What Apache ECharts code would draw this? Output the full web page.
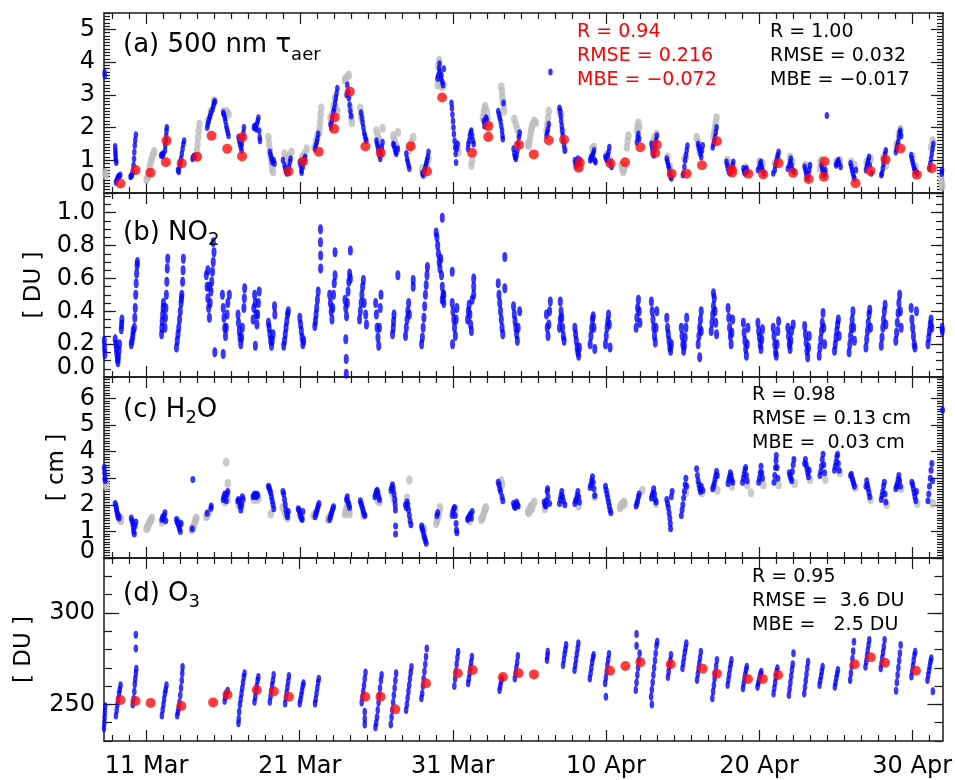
<!DOCTYPE html>
<html><head><meta charset="utf-8">
<script src="https://cdn.jsdelivr.net/npm/echarts@6/dist/echarts.min.js"></script>
<style>html,body{margin:0;padding:0;background:#fff}#c{width:955px;height:780px}</style>
</head><body><div id="c"></div>
<script>
const FONT = 'DejaVu Sans';
const X_MIN = 8.22, X_MAX = 62.98;
// x values are day numbers counted from 1 Mar (= 1); 1 Apr = 32
const xTickValues = [11,21,31,41,51,61];
const xTickLabels = ['11 Mar','21 Mar','31 Mar','10 Apr','20 Apr','30 Apr'];
const aTickValues = [0,1,2,3,4,5];       const aTickLabels = ['0','1','2','3','4','5'];
const bTickValues = [0,0.2,0.4,0.6,0.8,1.0]; const bTickLabels = ['0.0','0.2','0.4','0.6','0.8','1.0'];
const cTickValues = [0,1,2,3,4,5,6];     const cTickLabels = ['0','1','2','3','4','5','6'];
const dTickValues = [250,300];           const dTickLabels = ['250','300'];

// ---- (a) 500 nm aerosol optical depth ----
const aBlue = [[8.26,3.68],[8.27,3.58],
[8.95,1.42],[8.96,1.3],[8.97,1.2],[8.98,1.1],[9.0,1.0],[9.02,0.93],
[9.0,0.33],[9.05,0.38],[9.1,0.45],[9.15,0.5],[9.2,0.52],[9.28,0.55],
[9.95,0.5],[10.0,0.53],[10.05,0.55],[10.1,0.65],[10.15,0.85],[10.18,1.05],[10.2,1.25],[10.23,1.45],[10.26,1.62],[10.3,1.78],
[11.95,1.15],[12.0,1.18],[12.05,1.12],[12.1,1.2],[12.2,1.3],[12.22,1.45],[12.25,1.6],[12.28,1.75],[12.3,1.9],[12.32,2.0],
[13.05,0.7],[13.1,0.65],[13.15,0.8],[13.2,0.95],[13.25,1.05],[13.3,1.2],[13.35,1.35],[13.4,1.5],[13.45,1.6],
[14.0,1.05],[14.05,1.1],[14.1,1.13],[14.15,1.1],
[14.95,2.0],[15.0,2.1],[15.05,2.2],[15.1,2.3],[15.15,2.35],[15.2,2.45],[15.3,2.55],[15.35,2.65],[15.4,2.75],[15.45,2.8],
[16.0,2.45],[16.05,2.4],[16.1,2.3],[16.15,2.2],[16.2,2.05],[16.25,1.95],[16.3,1.85],[16.35,1.75],
[17.0,1.7],[17.05,1.6],[17.1,1.5],[17.15,1.4],[17.2,1.3],[17.22,1.5],[17.28,1.7],[17.32,1.85],[17.35,2.0],
[18.0,2.0],[18.05,2.05],[18.1,2.0],[18.15,1.95],[18.2,2.1],[18.25,2.2],[18.3,2.3],[18.35,1.9],[18.38,1.7],[18.4,1.6],
[19.05,1.25],[19.1,1.15],[19.15,1.05],[19.2,0.95],[19.3,1.0],[19.35,0.9],
[19.9,1.0],[20.0,0.85],[20.05,0.75],[20.1,0.68],[20.15,0.6],[20.25,0.62],[20.3,0.8],[20.35,0.95],[20.4,1.05],
[21.0,0.95],[21.05,0.85],[21.1,0.7],[21.12,0.63],[21.2,0.8],[21.25,0.95],[21.3,1.05],[21.35,1.1],
[22.0,1.35],[22.05,1.45],[22.1,1.55],[22.15,1.65],[22.2,1.8],
[23.0,2.1],[23.05,2.0],[23.1,2.2],[23.15,2.35],[23.2,2.5],[23.25,2.6],[23.3,2.75],[23.35,2.9],[23.4,3.05],[23.45,3.2],
[24.05,3.0],[24.1,3.3],[24.15,3.1],[24.2,2.9],[24.25,2.7],[24.3,2.5],[24.35,2.35],
[25.0,2.45],[25.05,2.3],[25.1,2.15],[25.15,2.0],[25.2,1.85],[25.25,1.75],[25.3,1.65],[25.35,1.6],
[26.0,1.6],[26.05,1.5],[26.1,1.4],[26.15,1.3],[26.2,1.15],[26.25,1.05],[26.3,1.2],[26.35,1.4],[26.4,1.55],
[27.1,1.5],[27.15,1.45],[27.2,1.35],[27.25,1.25],[27.3,1.2],[27.4,1.35],
[27.95,1.2],[28.0,1.05],[28.05,0.95],[28.1,0.85],[28.15,0.75],
[29.0,0.6],[29.05,0.55],[29.1,0.65],[29.15,0.7],[29.2,0.8],[29.25,0.9],[29.3,1.0],[29.35,1.1],[29.4,1.25],
[29.98,3.5],[30.03,3.6],[30.08,3.8],[30.12,3.95],[30.15,3.7],[30.2,3.5],[30.25,3.6],[30.3,3.4],[30.35,3.3],[30.4,3.8],
[30.9,2.75],[30.93,2.6],[30.96,2.4],[31.0,2.2],[31.03,2.0],[31.06,1.8],[31.1,1.6],[31.13,1.4],[31.17,1.2],[31.2,0.93],[31.25,1.35],[31.3,1.5],
[31.98,1.35],[32.0,1.5],[32.05,1.6],[32.1,1.75],[32.15,1.85],[32.2,1.9],[32.25,1.75],[32.3,1.6],[32.35,1.5],
[33.0,2.2],[33.05,2.05],[33.1,2.15],[33.15,2.3],[33.2,2.25],
[33.95,2.5],[34.0,2.4],[34.05,2.3],[34.1,2.2],[34.15,2.05],[34.2,1.9],[34.23,1.75],[34.25,1.65],[34.3,2.75],
[34.95,1.35],[35.0,1.2],[35.05,1.1],[35.1,1.05],[35.15,1.15],[35.2,1.3],[35.25,1.5],[35.3,1.7],[35.35,1.84],
[37.36,3.7],
[37.1,1.75],[37.15,1.85],[37.2,1.95],[37.25,2.1],
[37.95,2.6],[38.0,2.5],[38.03,2.35],[38.06,2.2],[38.1,2.05],[38.13,1.9],[38.16,1.75],[38.2,1.6],[38.25,1.45],[38.3,1.3],
[38.95,1.0],[39.0,0.9],[39.05,0.85],[39.1,0.95],[39.15,1.05],[39.2,0.9],[39.3,1.0],
[39.95,1.0],[40.0,1.1],[40.05,1.05],[40.1,1.15],[40.15,1.2],[40.2,1.3],[40.25,1.0],[40.3,0.95],
[40.95,1.1],[41.0,1.05],[41.05,1.0],[41.1,1.15],[41.15,1.25],[41.2,1.4],[41.25,0.95],[41.35,0.8],
[43.0,1.55],[43.05,1.7],[43.1,1.8],[43.15,1.65],
[43.95,1.5],[44.0,1.35],[44.05,1.2],[44.1,1.15],[44.15,1.3],[44.2,1.45],[44.25,1.6],[44.3,1.75],
[44.95,1.05],[45.0,0.95],[45.05,0.85],[45.1,0.75],[45.15,0.6],[45.2,0.5],[45.25,0.45],
[46.0,0.55],[46.05,0.6],[46.1,0.8],[46.15,1.0],[46.2,1.15],[46.25,1.3],[46.3,1.44],
[47.0,1.5],[47.05,1.4],[47.1,1.3],[47.15,1.2],[47.2,1.1],[47.25,1.3],[47.3,1.45],
[47.95,1.4],[48.0,1.5],[48.05,1.6],[48.1,1.7],[48.15,1.85],[48.2,2.0],
[48.85,0.95],[48.9,0.85],[48.95,0.75],[49.0,0.65],[49.1,0.6],[49.15,0.7],[49.25,0.85],[49.3,0.95],
[49.95,0.75],[50.0,0.65],[50.05,0.6],[50.1,0.7],[50.15,0.75],[50.2,0.65],
[50.9,0.7],[51.0,0.8],[51.05,0.9],[51.1,0.95],[51.15,0.8],[51.2,0.7],[51.3,0.6],
[51.9,0.6],[52.0,0.7],[52.05,0.85],[52.1,0.95],[52.15,1.05],[52.2,1.15],[52.25,1.25],
[52.85,0.75],[52.95,0.85],[53.0,0.95],[53.05,1.05],[53.1,0.85],[53.15,0.7],[53.25,0.65],
[53.95,0.8],[54.0,0.7],[54.05,0.6],[54.1,0.5],[54.15,0.45],[54.2,0.55],[54.25,0.7],[54.3,0.85],
[55.05,0.85],[55.1,0.75],[55.15,0.65],[55.2,0.55],[55.25,0.6],[55.3,0.7],[55.4,2.37],
[56.0,0.85],[56.05,0.9],[56.1,0.95],[56.15,1.0],[56.2,0.9],[56.3,0.8],
[56.95,0.9],[57.0,0.8],[57.05,0.7],[57.1,0.6],[57.15,0.5],[57.2,0.45],[57.3,0.7],
[57.95,0.7],[58.0,0.8],[58.05,0.9],[58.1,1.0],[58.15,1.1],[58.2,0.85],[58.3,0.6],
[58.95,0.55],[59.0,0.6],[59.05,0.75],[59.1,0.9],[59.15,1.05],[59.2,1.2],[59.25,1.3],
[59.9,1.25],[59.95,1.35],[60.0,1.45],[60.05,1.55],[60.1,1.7],[60.15,1.85],[60.2,1.9],[60.25,1.75],
[60.9,1.15],[60.95,1.05],[61.0,0.95],[61.05,0.85],[61.1,0.75],[61.15,0.7],[61.2,0.65],[61.3,0.6],
[62.1,0.75],[62.15,0.9],[62.2,1.05],[62.25,1.2],[62.3,1.35],[62.35,1.5],
[62.9,0.6],[62.92,0.7]];
const aGray = [[8.3,0.62],[8.33,0.55],
[11.0,0.42],[11.08,0.5],[11.15,0.65],[11.2,0.8],[11.28,0.95],[11.35,1.08],[11.42,1.18],[11.5,1.27],
[14.25,1.1],[14.3,1.3],[14.33,1.5],[14.36,1.7],[14.4,1.9],[14.45,2.1],
[15.0,2.2],[15.2,2.5],[15.4,2.82],[15.45,2.78],
[16.05,2.5],[16.15,2.45],[16.25,2.48],[16.35,2.4],
[18.95,1.7],[19.0,1.5],[19.05,1.3],[19.1,1.1],[19.15,0.9],[19.2,0.75],[19.25,0.65],
[20.0,1.2],[20.1,1.05],[20.2,0.8],[20.3,1.1],[20.45,1.25],
[21.15,1.1],[21.3,1.2],[21.45,1.35],
[21.95,1.4],[22.05,1.6],[22.15,1.75],[22.25,1.85],[22.3,2.0],[22.33,2.2],[22.36,2.4],[22.4,2.6],
[23.0,2.3],[23.1,2.4],[23.2,2.65],[23.3,2.9],[23.35,2.6],[23.45,2.5],
[23.95,3.45],[24.0,3.5],[24.1,3.55],[24.2,3.6],[24.25,3.0],[24.3,2.6],[24.35,2.3],[24.4,2.15],
[24.95,2.6],[25.0,2.4],[25.05,2.25],
[26.0,1.9],[26.1,1.75],[26.2,1.6],[26.3,1.4],[26.35,1.2],[26.4,1.98],
[27.1,1.75],[27.2,1.6],[27.3,1.45],[27.35,1.3],[27.4,1.85],
[28.1,1.3],[28.2,1.4],[28.3,1.55],[28.4,1.7],
[29.0,0.75],[29.1,0.55],[29.3,0.85],[29.4,1.05],
[30.0,3.3],[30.05,3.9],[30.1,4.05],[30.2,3.3],[30.3,3.25],[30.4,3.3],
[31.3,1.45],[31.35,1.25],
[32.2,0.85],[32.25,1.0],
[32.95,2.3],[33.0,2.45],[33.05,2.55],[33.1,2.65],[33.2,2.5],[33.25,2.3],[33.3,2.1],[33.35,1.95],
[34.15,3.25],[34.2,3.1],[34.22,2.95],[34.25,2.8],[34.3,2.65],[34.33,2.5],
[35.0,2.25],[35.1,2.1],[35.2,1.95],[35.3,1.8],
[35.9,1.5],[35.95,1.45],[36.0,1.6],[36.05,1.75],[36.1,1.9],[36.15,2.0],[36.2,2.1],[36.3,2.2],[36.4,2.15],
[37.1,1.9],[37.15,2.1],[37.2,2.3],[37.25,2.5],
[37.95,2.5],[38.05,2.4],[38.15,1.9],[38.3,1.35],
[39.0,0.85],[39.2,0.8],
[40.1,1.35],[40.2,1.4],
[41.0,1.15],[41.25,1.0],
[42.0,0.85],[42.05,0.75],[42.1,0.65],[42.15,0.7],[42.2,0.8],
[42.35,1.4],[42.4,1.6],[42.45,1.75],[43.0,1.9],[43.05,2.05],[43.1,2.15],[43.15,2.0],
[44.05,1.55],[44.15,1.7],[44.3,1.8],
[45.0,1.1],[45.15,0.8],[45.25,0.55],
[46.1,1.05],[46.2,1.1],
[46.9,1.7],[47.0,1.55],[47.05,1.4],[47.1,1.25],
[48.0,1.7],[48.05,1.85],[48.1,2.0],[48.15,2.15],[48.2,2.3],
[48.9,1.0],[49.1,0.9],
[50.1,0.78],
[51.0,0.95],[51.2,0.9],
[52.0,0.9],[52.2,1.1],
[53.0,1.1],[53.15,0.95],
[54.0,0.85],[54.2,0.75],
[54.95,0.75],[55.0,0.95],[55.05,1.0],[55.15,0.85],[55.3,0.6],
[56.0,0.95],[56.25,1.0],
[57.0,0.95],[57.2,0.85],
[58.0,0.95],[58.25,1.05],
[59.1,1.1],[59.25,0.85],
[59.95,1.5],[60.1,1.8],[60.2,1.95],
[61.0,1.1],[61.2,0.8],
[62.2,1.4],[62.3,1.6],
[62.85,0.45],[62.9,0.3],[62.93,0.2]];
const aRed = [[9.3,0.29],[10.28,0.7],[11.26,0.62],[12.3,1.6],[12.26,0.94],[13.29,0.91],[14.3,1.11],[15.24,1.75],[16.26,1.35],[17.25,1.7],[17.23,1.12],[20.26,0.66],[21.22,0.96],[22.24,1.26],[23.28,2.31],[23.24,1.96],[24.26,3.1],[25.28,1.42],[26.28,1.23],[28.24,1.43],[29.3,0.66],[30.29,2.92],[32.24,1.23],[33.3,2.05],[33.3,1.71],[35.3,1.47],[36.27,1.18],[37.25,1.61],[38.25,1.63],[39.27,0.93],[39.2,0.77],[41.28,0.9],[42.23,0.94],[43.23,1.4],[44.3,1.47],[44.2,1.22],[45.27,0.59],[46.25,0.59],[47.25,0.85],[48.23,1.58],[49.2,0.72],[49.22,0.63],[50.27,0.59],[51.25,0.57],[52.25,0.91],[53.2,0.62],[54.21,0.43],[55.25,0.96],[55.2,0.5],[57.27,0.3],[58.25,0.67],[59.23,1.02],[60.21,1.36],[61.27,0.56],[62.25,0.76]];

// ---- (b) NO2 ----
const bBlue = [[8.24,0.22],[8.26,0.18],[8.28,0.14],
[8.95,0.23],[9.0,0.2],[9.03,0.17],[9.06,0.14],[9.1,0.11],[9.13,0.09],[9.16,0.12],[9.2,0.16],[9.23,0.2],[9.35,0.29],[9.37,0.32],[9.39,0.35],
[10.0,0.2],[10.05,0.22],[10.1,0.25],[10.12,0.28],[10.2,0.3],[10.23,0.36],[10.26,0.42],[10.29,0.5],[10.32,0.57],[10.35,0.63],[10.38,0.68],[10.4,0.7],
[11.98,0.26],[12.0,0.3],[12.02,0.34],[12.05,0.38],[12.08,0.42],[12.1,0.45],[12.2,0.3],[12.23,0.36],[12.26,0.42],[12.29,0.5],[12.32,0.58],[12.35,0.66],[12.38,0.72],
[12.95,0.18],[13.0,0.22],[13.05,0.26],[13.1,0.3],[13.15,0.35],[13.2,0.4],[13.25,0.45],[13.28,0.48],[13.3,0.5],[13.35,0.58],[13.38,0.65],[13.4,0.72],
[14.9,0.62],[14.95,0.55],[15.0,0.48],[15.05,0.42],[15.1,0.36],[15.15,0.45],[15.2,0.52],[15.25,0.58],[15.3,0.64],[15.35,0.7],[15.4,0.76],[15.45,0.15],[15.35,0.82],[15.0,0.65],[15.1,0.55],
[15.95,0.5],[16.0,0.42],[16.05,0.36],[16.1,0.3],[16.15,0.25],[16.2,0.3],[16.25,0.38],[16.3,0.45],[16.0,0.14],[16.4,0.5],
[16.97,0.38],[17.0,0.33],[17.05,0.28],[17.1,0.24],[17.15,0.2],[17.2,0.24],[17.25,0.3],[17.35,0.42],[17.38,0.48],[17.4,0.54],
[17.95,0.35],[18.0,0.42],[18.05,0.5],[18.1,0.45],[18.15,0.38],[18.2,0.32],[18.25,0.38],[18.3,0.45],[18.35,0.52],[18.1,0.19],
[18.95,0.33],[19.0,0.3],[19.05,0.26],[19.1,0.22],[19.15,0.19],[19.2,0.22],[19.25,0.26],[19.35,0.43],[19.37,0.38],
[19.95,0.19],[20.0,0.22],[20.05,0.26],[20.1,0.3],[20.15,0.34],[20.2,0.38],[20.25,0.4],
[21.0,0.36],[21.05,0.32],[21.1,0.28],[21.15,0.24],[21.2,0.2],[21.25,0.22],
[21.98,0.31],[22.02,0.34],[22.06,0.38],[22.1,0.42],[22.15,0.47],[22.2,0.52],[22.35,0.9],[22.35,0.82],[22.36,0.74],[22.36,0.66],
[22.95,0.5],[23.0,0.45],[23.05,0.4],[23.1,0.35],[23.15,0.42],[23.2,0.5],[23.25,0.57],[23.3,0.62],[23.3,0.76],
[23.95,0.47],[24.0,0.42],[24.05,0.37],[24.1,0.45],[24.15,0.52],[24.2,0.58],[24.25,0.63],[24.3,0.77],[24.3,0.6],[24.0,0.23],[24.03,0.11],[24.03,0.02],
[24.9,0.35],[24.95,0.4],[25.0,0.45],[25.05,0.5],[25.1,0.55],[25.15,0.59],[25.2,0.45],[25.3,0.38],[25.35,0.32],
[25.95,0.45],[26.0,0.38],[26.05,0.3],[26.1,0.24],[26.15,0.19],[26.2,0.3],[26.25,0.42],[26.3,0.5],
[27.05,0.26],[27.1,0.3],[27.12,0.34],[27.15,0.38],[27.4,0.62],
[27.9,0.25],[27.95,0.3],[28.0,0.35],[28.05,0.4],[28.1,0.45],[28.15,0.38],[28.4,0.55],[28.4,0.59],
[28.95,0.2],[29.0,0.24],[29.05,0.3],[29.1,0.36],[29.15,0.43],[29.2,0.5],[29.25,0.56],[29.3,0.62],[29.33,0.67],
[29.9,0.88],[29.95,0.85],[30.0,0.8],[30.05,0.75],[30.1,0.7],[30.15,0.66],[30.2,0.72],[30.25,0.62],[30.3,0.55],[30.35,0.5],[30.3,0.97],[30.3,0.47],[30.4,0.45],[30.4,0.5],
[30.95,0.45],[31.0,0.4],[31.05,0.35],[31.1,0.3],[31.15,0.25],[31.2,0.35],[31.25,0.42],[30.95,0.64],[30.97,0.2],
[31.95,0.35],[32.0,0.4],[32.05,0.44],[32.1,0.38],[32.15,0.32],[32.2,0.28],[32.25,0.47],[32.35,0.6],[32.35,0.55],[32.35,0.5],
[33.95,0.57],[34.0,0.5],[34.05,0.45],[34.1,0.4],[34.15,0.35],[34.2,0.3],[34.25,0.26],[34.38,0.73],[34.38,0.54],
[34.95,0.43],[35.0,0.38],[35.05,0.34],[35.1,0.3],[35.15,0.26],[35.2,0.22],[35.25,0.3],[35.35,0.4],
[37.1,0.38],[37.15,0.3],[37.2,0.25],[37.25,0.32],[37.3,0.4],[37.35,0.46],
[37.95,0.3],[38.0,0.35],[38.05,0.4],[38.1,0.36],[38.15,0.3],[38.2,0.25],[38.25,0.22],[38.0,0.46],
[38.95,0.3],[39.0,0.26],[39.05,0.22],[39.1,0.18],[39.15,0.15],[39.2,0.13],[39.25,0.18],
[39.95,0.2],[40.0,0.25],[40.05,0.3],[40.1,0.35],[40.15,0.37],[40.2,0.3],[40.25,0.17],
[40.95,0.2],[41.0,0.25],[41.05,0.3],[41.1,0.34],[41.15,0.38],[41.2,0.32],[41.25,0.18],
[42.95,0.3],[43.0,0.36],[43.05,0.42],[43.1,0.47],[43.15,0.4],[43.2,0.33],
[43.95,0.46],[44.0,0.4],[44.05,0.35],[44.1,0.3],[44.15,0.25],[44.2,0.21],[44.25,0.3],[44.3,0.4],
[44.95,0.36],[45.0,0.3],[45.05,0.26],[45.1,0.22],[45.15,0.18],[45.2,0.16],[45.25,0.2],
[45.9,0.3],[45.95,0.25],[46.0,0.2],[46.05,0.16],[46.1,0.19],[46.15,0.24],[46.2,0.3],[46.25,0.36],
[47.0,0.2],[47.05,0.25],[47.1,0.3],[47.15,0.35],[47.2,0.4],[47.1,0.12],[47.2,0.28],
[47.85,0.28],[47.9,0.33],[47.95,0.38],[48.0,0.43],[48.05,0.48],[48.1,0.4],[48.15,0.33],[48.2,0.26],[48.0,0.51],
[48.95,0.42],[49.0,0.36],[49.05,0.3],[49.1,0.25],[49.15,0.2],[49.2,0.27],[49.25,0.35],
[49.95,0.33],[50.0,0.27],[50.05,0.22],[50.1,0.17],[50.15,0.13],[50.2,0.2],[50.25,0.3],
[50.9,0.33],[50.95,0.28],[51.0,0.24],[51.05,0.2],[51.1,0.17],[51.15,0.23],[51.2,0.29],
[51.9,0.3],[51.95,0.25],[52.0,0.2],[52.05,0.15],[52.1,0.13],[52.15,0.2],[52.2,0.28],[52.25,0.34],
[52.85,0.3],[52.9,0.25],[52.95,0.2],[53.0,0.17],[53.05,0.22],[53.1,0.28],[53.2,0.32],
[53.95,0.31],[54.0,0.26],[54.05,0.21],[54.1,0.16],[54.15,0.12],[54.2,0.18],[54.25,0.25],
[54.9,0.13],[54.95,0.18],[55.0,0.23],[55.05,0.28],[55.1,0.33],[55.15,0.39],[55.2,0.3],[55.25,0.2],
[55.9,0.16],[55.95,0.2],[56.0,0.24],[56.05,0.28],[56.1,0.32],[56.15,0.35],[56.2,0.25],
[56.85,0.15],[56.9,0.2],[56.95,0.25],[57.0,0.3],[57.05,0.35],[57.1,0.4],[57.15,0.3],[57.2,0.22],
[57.95,0.18],[58.0,0.23],[58.05,0.28],[58.1,0.33],[58.15,0.38],[58.2,0.41],[58.25,0.3],
[58.95,0.19],[59.0,0.24],[59.05,0.3],[59.1,0.35],[59.15,0.4],[59.2,0.44],[59.25,0.32],
[59.9,0.22],[59.95,0.27],[60.0,0.33],[60.05,0.39],[60.1,0.45],[60.15,0.5],[60.2,0.4],[60.25,0.3],
[60.9,0.42],[60.95,0.35],[61.0,0.3],[61.05,0.25],[61.1,0.2],[61.15,0.18],[61.25,0.4],
[62.0,0.2],[62.05,0.24],[62.1,0.28],[62.15,0.32],[62.2,0.35],[62.25,0.3],
[62.92,0.3],[62.93,0.28]];

// ---- (c) H2O ----
const cBlue = [[8.24,3.4],[8.26,3.2],[8.28,3.0],[8.3,2.9],
[8.95,2.05],[9.0,1.95],[9.03,1.85],[9.06,1.75],[9.1,1.65],[9.13,1.55],[9.16,1.6],[9.2,1.5],
[10.0,1.5],[10.05,1.4],[10.1,1.3],[10.13,1.15],[10.16,1.0],[10.2,0.9],[10.25,1.2],[10.3,1.35],
[12.0,1.45],[12.05,1.55],[12.1,1.5],[12.15,1.6],[12.2,1.7],[12.25,1.4],
[12.95,1.45],[13.0,1.35],[13.05,1.3],[13.1,1.2],[13.15,1.1],[13.2,1.0],[13.25,1.3],
[13.98,1.1],[14.02,2.95],
[14.95,1.68],[15.2,1.87],[15.22,1.95],
[16.0,2.2],[16.05,2.3],[16.1,2.4],[16.15,2.25],[16.2,2.15],[16.25,2.4],[16.3,2.5],
[16.95,2.15],[17.0,2.2],[17.05,2.1],[17.1,1.95],[17.15,1.8],[17.2,2.0],[17.25,2.3],[17.3,2.2],
[17.95,2.3],[18.0,2.35],[18.05,2.4],[18.1,2.35],[18.15,2.3],[18.2,2.4],[18.25,2.35],
[18.95,2.7],[19.0,2.65],[19.05,2.55],[19.1,2.45],[19.15,2.3],[19.2,2.15],[19.25,2.0],[19.3,1.85],
[19.9,2.5],[19.95,2.4],[20.0,2.2],[20.05,2.0],[20.1,1.8],[20.15,1.65],[20.2,1.55],[20.25,1.75],
[20.9,1.85],[20.95,1.8],[21.0,1.7],[21.05,1.6],[21.1,1.5],[21.15,1.45],[21.2,1.75],
[22.0,1.55],[22.05,1.65],[22.1,1.75],[22.15,1.85],[22.2,1.95],[22.25,2.05],
[22.95,1.45],[23.0,1.55],[23.05,1.65],[23.1,1.75],[23.15,1.85],[23.2,1.93],
[24.05,2.2],[24.1,2.3],[24.15,2.1],[24.2,2.0],[24.25,1.9],
[24.95,2.15],[25.0,2.05],[25.05,1.95],[25.1,1.85],[25.15,1.75],[25.2,1.65],[25.25,1.6],
[25.9,2.3],[25.95,2.4],[26.0,2.5],[26.05,2.55],[26.1,2.45],[26.15,2.3],[26.2,2.2],
[26.95,2.55],[27.0,2.65],[27.05,2.75],[27.1,2.6],[27.15,2.4],[27.2,2.2],[27.22,2.0],[27.24,1.8],[27.25,1.2],[27.25,0.9],
[27.9,2.0],[27.95,1.9],[28.0,2.1],[28.05,2.0],[28.1,1.8],[28.15,1.6],[28.2,1.4],[28.25,1.25],
[28.95,1.2],[29.0,1.1],[29.05,1.0],[29.1,0.85],[29.15,0.75],[29.2,0.65],[29.25,0.55],
[29.95,1.6],[30.0,1.7],
[30.95,1.6],[31.0,1.75],[31.05,1.85],[31.1,1.9],[31.15,1.6],[31.2,1.3],[31.23,1.05],[31.25,0.95],
[31.95,1.45],[32.0,1.5],[32.05,1.55],[32.1,1.6],[32.15,1.65],[32.2,1.5],[32.25,1.75],
[33.95,2.85],[34.0,2.75],[34.05,2.6],[34.1,2.5],[34.2,2.3],[34.25,2.15],
[34.95,2.05],[35.0,1.95],[35.05,1.9],[35.1,2.0],[35.15,2.1],[35.2,2.0],[35.25,1.95],
[36.95,2.1],[37.0,2.0],[37.05,1.95],[37.1,2.15],[37.15,2.5],[37.17,2.6],[37.2,2.3],[37.3,2.05],
[37.95,2.05],[38.0,2.2],[38.05,2.35],[38.1,2.5],[38.15,2.3],[38.2,2.15],[38.3,2.0],
[38.95,2.05],[39.0,2.15],[39.05,2.2],[39.1,2.35],[39.15,2.5],[39.2,2.3],[39.25,2.1],
[39.95,2.65],[40.0,2.75],[40.05,2.9],[40.1,3.05],[40.15,2.85],[40.2,2.6],[40.25,2.35],
[40.95,2.7],[41.0,2.55],[41.05,2.4],[41.1,2.25],[41.15,2.1],[41.2,1.95],[41.25,1.8],[41.3,1.7],
[42.95,1.95],[43.0,2.05],[43.05,2.15],[43.1,2.3],[43.15,2.4],
[43.95,2.25],[44.0,2.35],[44.05,2.45],[44.1,2.6],[44.15,2.4],[44.2,2.2],[44.25,2.1],
[44.95,2.2],[45.0,2.05],[45.05,1.9],[45.1,1.7],[45.15,1.5],[45.18,1.3],[45.2,1.1],[45.25,2.3],[45.3,2.5],
[45.9,1.6],[45.95,1.8],[46.0,2.0],[46.05,2.25],[46.1,2.5],[46.15,2.75],[46.2,3.0],[46.25,2.7],
[46.9,3.35],[46.95,3.1],[47.0,2.9],[47.05,2.75],[47.1,2.6],[47.15,2.5],[47.2,2.7],[47.3,2.55],
[47.95,2.6],[48.0,2.7],[48.05,2.8],[48.1,2.95],[48.15,3.1],[48.2,3.25],[48.25,3.1],
[48.95,2.8],[49.0,2.95],[49.05,3.05],[49.1,3.2],[49.15,3.1],[49.2,2.95],[49.25,2.85],
[49.9,2.85],[49.95,3.0],[50.0,3.15],[50.05,3.3],[50.1,3.4],[50.15,3.1],[50.2,2.9],
[50.95,2.85],[51.0,3.0],[51.05,3.2],[51.1,3.45],[51.15,3.2],[51.2,3.0],
[51.95,2.85],[52.0,3.1],[52.05,3.4],[52.08,3.65],[52.1,3.85],[52.15,3.4],[52.2,3.0],
[52.95,3.2],[53.0,3.1],[53.05,3.0],[53.1,2.9],[53.15,3.25],[53.2,3.5],[53.25,3.7],
[53.95,3.55],[54.0,3.7],[54.05,3.5],[54.1,3.35],[54.15,3.2],[54.2,3.05],[54.25,3.3],
[54.95,3.1],[55.0,3.25],[55.05,3.45],[55.1,3.7],[55.15,3.9],[55.2,3.5],[55.25,3.2],
[55.9,3.3],[55.95,3.45],[56.0,3.6],[56.05,3.8],[56.1,3.9],[56.15,3.55],[56.2,3.3],
[56.95,3.1],[57.0,3.15],[57.05,3.0],[57.1,2.9],[57.15,2.8],[57.2,2.7],
[57.95,2.7],[58.0,2.9],[58.05,2.75],[58.1,2.6],[58.15,2.45],[58.2,2.3],
[58.95,2.2],[59.0,2.35],[59.05,2.5],[59.1,2.7],[59.15,2.85],[59.2,2.4],[59.25,2.1],
[59.9,2.6],[59.95,2.7],[60.0,2.8],[60.05,2.95],[60.1,3.1],[60.15,2.9],[60.2,2.7],
[60.95,2.85],[61.0,2.75],[61.05,2.6],[61.1,2.45],[61.15,2.3],[61.2,2.15],[61.25,2.5],
[62.0,2.15],[62.05,2.4],[62.1,2.7],[62.15,3.0],[62.2,3.3],[62.25,3.55],[62.3,2.9],[62.95,5.56]];
const cGray = [[8.35,2.8],[8.36,2.7],
[9.25,1.45],[9.3,1.5],[9.32,1.4],
[11.0,1.1],[11.05,1.15],[11.1,1.2],[11.15,1.3],[11.2,1.35],[11.25,1.4],[11.3,1.45],[11.35,1.5],
[12.0,1.35],[12.1,1.4],[13.05,1.4],[13.2,1.3],
[13.95,1.05],[14.0,1.1],[14.05,1.15],[14.1,1.25],[14.15,1.35],[14.2,1.45],[14.25,1.5],
[14.9,1.55],[14.95,1.6],[15.0,1.65],[15.05,1.7],
[16.2,3.6],[16.3,2.8],[16.1,2.1],[16.3,2.2],
[17.0,2.0],[17.2,1.95],[18.0,2.2],[18.2,2.2],[18.3,2.25],[19.1,1.65],
[19.9,1.9],[20.0,1.75],[20.1,1.6],[20.2,1.5],[21.0,1.6],[21.15,1.5],
[21.9,1.6],[22.0,1.65],[22.05,1.7],[22.85,1.45],[22.9,1.5],[22.95,1.55],
[23.95,1.65],[24.0,1.75],[24.05,1.85],[24.1,1.95],[24.15,2.05],[24.2,1.75],[24.25,1.65],
[25.15,1.6],[26.1,2.15],[26.2,2.1],[27.05,2.4],[27.15,2.2],[28.15,2.93],[28.0,2.25],
[29.0,1.15],[29.1,1.1],
[29.9,1.3],[29.95,1.4],[30.0,1.5],[30.05,1.6],[30.1,1.75],[30.15,1.9],
[31.0,1.7],[31.15,1.85],[32.1,1.4],
[32.85,1.45],[32.9,1.5],[32.95,1.55],[33.0,1.65],[33.05,1.75],[33.1,1.85],[33.15,1.9],
[34.15,2.9],[34.2,2.75],
[35.9,1.75],[35.95,1.7],[36.0,1.8],[36.05,1.9],[36.1,1.95],[36.15,1.85],[36.2,2.0],[36.3,2.1],
[37.0,1.85],[39.2,1.95],[40.25,2.3],
[41.9,1.9],[41.95,1.95],[42.0,2.0],[42.05,2.05],[42.1,2.0],[42.15,2.1],[42.2,2.05],
[43.35,2.55],[44.25,2.05],[46.2,2.45],[47.25,2.45],[48.25,2.55],[49.2,2.7],[50.2,2.75],[50.45,2.45],[51.25,2.75],[52.25,2.75],[53.3,2.8],[54.3,2.95],[55.3,2.95],[56.25,3.2],[57.25,2.65],[58.25,2.2],[59.3,2.0],[60.25,2.6],[61.3,2.05],[62.3,2.05]];

// ---- (d) O3 ----
const dBlue = [[8.22,237],[8.24,240],[8.26,243],[8.28,246],[8.3,249],
[9.0,244],[9.05,247],[9.1,250],[9.15,253],[9.2,256],[9.25,258],[9.3,260.5],
[10.1,250],[10.15,253],[10.2,257],[10.23,261],[10.26,264],[10.3,267],[10.33,269.5],[10.3,288],[10.3,280.6],
[12.0,244],[12.05,247],[12.1,250],[12.15,253],[12.2,256],[12.25,258],[12.3,260.5],
[13.0,244],[13.05,246],[13.1,248],[13.15,251],[13.2,255],[13.25,259],[13.3,263],[13.33,267],[13.35,270.5],
[16.1,252],[16.15,254],[16.2,256],[16.3,257.5],
[17.0,239.7],[17.02,242],[17.05,246],[17.1,250],[17.15,253],[17.2,256],[17.25,259],[17.3,262],[17.35,265],[17.4,267],
[18.05,251.5],[18.1,254],[18.15,257],[18.2,260],[18.25,263],[18.3,265],
[19.05,251.5],[19.1,254.5],[19.15,257.5],[19.2,260.5],[19.25,263],[19.3,266],
[20.05,250.5],[20.1,253.5],[20.15,256.5],[20.2,259.5],[20.25,262.5],[20.3,265.5],
[21.0,250.5],[21.05,252.5],[21.1,255],[21.15,257.5],[21.2,260],[21.25,261.5],
[22.0,250.5],[22.05,253],[22.1,256],[22.15,259],[22.2,262],[22.25,264],
[25.05,251],[25.1,254],[25.15,257],[25.2,260.5],[25.25,264],[25.3,267.5],[25.25,246],[25.25,242],[25.25,239],
[25.95,237.5],[26.0,240],[26.05,243],[26.1,247],[26.15,251],[26.2,255],[26.25,259],[26.3,263],[26.35,266],
[26.95,239],[27.0,243],[27.05,247],[27.1,251],[27.15,255],[27.2,259],[27.25,263],[27.3,267],
[27.95,247],[28.0,250],[28.05,253.5],[28.1,257],[28.15,260.5],[28.2,264],[28.25,267.5],[28.3,270.5],
[28.95,253.3],[29.0,256],[29.05,260],[29.1,264],[29.15,268],[29.2,272],[29.25,276],[29.3,280.5],
[31.1,260],[31.15,264],[31.2,268],[31.25,272],[31.3,275.5],[31.35,278.8],
[32.0,261.5],[32.05,264],[32.1,267],[32.15,270],[32.2,273],[32.25,276],
[34.05,257.9],[34.1,260],[34.15,262.5],[34.2,264.2],
[35.05,264.2],[35.1,267],[35.15,270],[35.2,273],[35.25,276.5],
[37.15,274.3],[37.18,276.5],[37.2,278.8],
[38.2,271.5],[38.25,274.5],[38.3,277.5],[38.35,280],[38.4,282.5],
[38.95,268.8],[39.0,271.5],[39.05,274.5],[39.1,277.5],[39.15,280.5],[39.2,283.4],
[39.95,264.2],[40.0,267],[40.05,270],[40.1,273],[40.15,275.5],[40.2,277],
[40.95,261.5],[41.0,264.5],[41.05,268],[41.1,271.5],[41.15,274.5],[41.2,277.5],[41.0,254.2],
[42.95,257.9],[43.0,262],[43.05,266],[43.1,270],[43.15,274],[43.2,278],[43.0,288.5],[43.0,282],
[43.95,254.2],[44.0,258],[44.05,262],[44.1,266],[44.15,270],[44.2,274],[44.25,278],[44.3,282],[44.35,284.3],[44.0,250],
[45.05,265],[45.1,268],[45.15,271],[45.2,274],[45.25,277],
[46.0,269.7],[46.05,272.5],[46.1,275.5],[46.15,278.5],[46.2,281],[46.25,283.4],
[46.95,263.3],[47.0,266.5],[47.05,269.5],[47.1,272.5],[47.15,275.5],[47.2,278.8],
[47.95,253.3],[48.0,257],[48.05,260.5],[48.1,264],[48.15,267.5],[48.2,271],[48.25,274.3],
[48.95,260.6],[49.0,263.5],[49.05,266.5],[49.1,269.5],[49.15,272],[49.2,274.3],
[49.95,258.8],[50.0,261.5],[50.05,264],[50.1,266.5],[50.15,268.8],[50.2,270.6],
[50.9,259.7],[50.95,261.5],[51.0,263.3],[51.05,265],[51.1,266.8],[51.15,267.9],
[51.95,256],[52.0,259],[52.05,262],[52.1,265],[52.15,268],[52.2,269.7],
[52.95,255.1],[53.0,258.5],[53.05,262],[53.1,265.5],[53.15,269],[53.2,272],[53.25,277.9],
[53.95,256],[54.0,259.5],[54.05,263],[54.1,266.5],[54.15,270],[54.2,273.3],
[54.95,260.6],[55.0,263],[55.05,265.5],[55.1,268],[55.15,270.6],
[55.95,259.7],[56.0,262],[56.05,264.5],[56.1,266.8],[56.15,268.8],
[56.95,263.3],[57.0,267],[57.05,271],[57.1,275],[57.15,279],[57.2,284.3],
[57.95,270.6],[58.0,273.5],[58.05,276.5],[58.1,279.5],[58.15,282.5],[58.2,285.2],
[58.95,269.7],[59.0,272.5],[59.05,275.5],[59.1,278.5],[59.15,281.5],[59.2,285.2],
[59.95,257.5],[60.0,262],[60.05,266],[60.1,270],[60.15,274],[60.2,278],[60.25,282.5],
[60.95,265.2],[61.0,268],[61.05,271],[61.1,274],[61.15,277],[61.2,278.8],
[62.0,263.3],[62.05,266],[62.1,268.5],[62.15,271],[62.2,273.5],[62.25,275.2],[62.35,257.2]];
const dRed = [[9.3,252.4],[10.28,251.9],[11.27,250.8],[13.27,249.1],[15.35,251.1],[16.28,255.3],[18.2,257.9],[19.31,257.1],[20.3,254.2],[25.28,254.2],[26.28,254.2],[27.24,247.3],[29.25,261.5],[31.33,267],[32.3,268.8],[34.27,265],[35.3,267],[36.3,266.4],[41.27,268.4],[42.27,271],[43.25,273],[45.23,271.9],[47.32,269.5],[48.25,266.8],[50.27,263.9],[51.25,263.9],[52.25,266.1],[57.25,271.9],[58.3,275.7],[59.23,272.8],[61.25,268.4]];

// minor x ticks (9 sub-intervals between 10-day majors)
const xMinorValues = [];
for (let k = -2; k <= 46; k++) { if (k % 9 !== 0) xMinorValues.push(11 + k * 10 / 9); }

const ELLIPSE = 'path://M5,0A5,5,0,1,1,5,10A5,5,0,1,1,5,0Z';
const panels = [
  {top:13,  height:180, min:0,   max:5.5,  ticks:aTickValues, labels:aTickLabels, minor:0.1,  majorLen:12, minorLen:6, zeroShift:16, name:'',       nameGap:0,  blueSize:[4.5,7], blue:aBlue, gray:aGray, red:aRed},
  {top:193, height:184, min:0,   max:1.12, ticks:bTickValues, labels:bTickLabels, minor:0.05, majorLen:12, minorLen:7, zeroShift:18, name:'[ DU ]', nameGap:58, blueSize:[5,10], blue:bBlue},
  {top:377, height:181, min:0,   max:6.8,  ticks:cTickValues, labels:cTickLabels, minor:0.1,  majorLen:12, minorLen:6, zeroShift:12, name:'[ cm ]', nameGap:30, blueSize:[5,7],  blue:cBlue, gray:cGray},
  {top:558, height:183, min:230, max:330,  ticks:dTickValues, labels:dTickLabels, minor:10,   majorLen:15, minorLen:8, zeroShift:0,  name:'[ DU ]', nameGap:68, blueSize:[4.5,8], blue:dBlue, red:dRed}
];

const lineStyle = {color:'#1a1a1a', width:1.5};
const tickStyle = {color:'#1a1a1a', width:1.2};
const grid = [], xAxis = [], yAxis = [], series = [];
const findLabel = (vals, labs, v) => { const i = vals.findIndex(t => Math.abs(t - v) < 1e-6); return i >= 0 ? labs[i] : ''; };
const labelStyle = {fontSize:24, fontFamily:FONT, color:'#000'};

panels.forEach((p, i) => {
  grid.push({left:104, right:12, top:p.top, height:p.height});
  const xb = {gridIndex:i, type:'value', min:X_MIN, max:X_MAX, splitLine:{show:false}};
  ['bottom','top'].forEach(pos => {
    xAxis.push(Object.assign({}, xb, {position:pos,
      axisLine:{show:true, onZero:false, lineStyle},
      axisTick:{show:true, inside:true, length:11, customValues:xTickValues, lineStyle:tickStyle},
      axisLabel:Object.assign({show: pos === 'bottom' && i === 3, customValues:xTickValues, margin:14, showMinLabel:true, showMaxLabel:true,
        formatter: v => findLabel(xTickValues, xTickLabels, v)}, labelStyle)}));
    xAxis.push(Object.assign({}, xb, {position:pos,
      axisLine:{show:false, onZero:false},
      axisTick:{show:true, inside:true, length:6, customValues:xMinorValues, lineStyle:tickStyle},
      axisLabel:{show:false}}));
  });
  const yb = {gridIndex:i, type:'value', min:p.min, max:p.max, splitLine:{show:false}};
  // the bottom label (at the lower frame edge) is drawn lifted, on its own axis so it never hides its neighbour
  const mainLabelVals = p.zeroShift ? p.ticks.filter(t => t !== p.min) : p.ticks;
  yAxis.push(Object.assign({}, yb, {position:'left',
    axisLine:{show:true, onZero:false, lineStyle},
    axisTick:{show:true, inside:true, length:p.majorLen, customValues:p.ticks, lineStyle:tickStyle},
    axisLabel:Object.assign({show:true, customValues:mainLabelVals, margin:9, showMinLabel:true, showMaxLabel:true,
      formatter: v => findLabel(p.ticks, p.labels, v)}, labelStyle),
    name:p.name, nameLocation:'middle', nameGap:p.nameGap, nameRotate:90,
    nameTextStyle:{fontSize:23, fontFamily:FONT, color:'#000'}}));
  yAxis.push(Object.assign({}, yb, {position:'left', interval:p.minor,
    axisLine:{show:false, onZero:false},
    axisTick:{show:true, inside:true, length:p.minorLen, lineStyle:tickStyle},
    axisLabel: p.zeroShift ? Object.assign({show:true, customValues:[p.min], margin:9, showMinLabel:true,
      formatter: v => '{z|' + findLabel(p.ticks, p.labels, v) + '}',
      rich:{z:Object.assign({padding:[0,0,p.zeroShift,0]}, labelStyle)}}, labelStyle) : {show:false}}));
  yAxis.push(Object.assign({}, yb, {position:'right',
    axisLine:{show:true, onZero:false, lineStyle},
    axisTick:{show:true, inside:true, length:p.majorLen, customValues:p.ticks, lineStyle:tickStyle}, axisLabel:{show:false}}));
  yAxis.push(Object.assign({}, yb, {position:'right', interval:p.minor,
    axisLine:{show:false, onZero:false},
    axisTick:{show:true, inside:true, length:p.minorLen, lineStyle:tickStyle}, axisLabel:{show:false}}));

  const xi = 4 * i, yi = 4 * i;
  if (p.gray) series.push({type:'scatter', xAxisIndex:xi, yAxisIndex:yi, data:p.gray, symbol:ELLIPSE, symbolSize:[6.5,9],
    itemStyle:{color:'#bdbdbd'}, z:2, silent:true});
  series.push({type:'scatter', xAxisIndex:xi, yAxisIndex:yi, data:p.blue, symbol:ELLIPSE, symbolSize:p.blueSize,
    itemStyle:{color:'#0505ff'}, z:3, silent:true});
  if (p.red) series.push({type:'scatter', xAxisIndex:xi, yAxisIndex:yi, data:p.red, symbolSize:10,
    itemStyle:{color:'#ff0d0d'}, z:4, silent:true});
});

const txt = (x, y, text, fill) => ({type:'text', x, y, z:10, silent:true,
  style:{text, fill, fontSize:19, fontFamily:FONT, lineHeight:24, verticalAlign:'top', align:'left'}});
const title = (x, y, text, sub) => ({type:'text', x, y, z:10, silent:true,
  style:{text, verticalAlign:'middle', align:'left',
    rich:{m:{fontSize:26, fontFamily:FONT, fill:'#000', lineHeight:34},
          s:{fontSize:18, fontFamily:FONT, fill:'#000', lineHeight:34, padding:[sub,0,0,0]}}}});

const graphic = [
  title(123, 45, '{m|(a) 500 nm τ}{s|aer}', 20),
  title(123, 233, '{m|(b) NO}{s|2}', 14),
  title(123, 410, '{m|(c) H}{s|2}{m|O}', 16),
  title(123, 594, '{m|(d) O}{s|3}', 16),
  txt(577, 20, 'R = 0.94\nRMSE = 0.216\nMBE = \u22120.072', '#ff0000'),
  txt(770, 20, 'R = 1.00\nRMSE = 0.032\nMBE = \u22120.017', '#000'),
  txt(752, 383, 'R = 0.98\nRMSE = 0.13 cm\nMBE =  0.03 cm', '#000'),
  txt(752, 565, 'R = 0.95\nRMSE =  3.6 DU\nMBE =   2.5 DU', '#000')
];

const chart = echarts.init(document.getElementById('c'));
chart.setOption({animation:false, backgroundColor:'#fff', grid, xAxis, yAxis, series, graphic});
</script></body></html>
